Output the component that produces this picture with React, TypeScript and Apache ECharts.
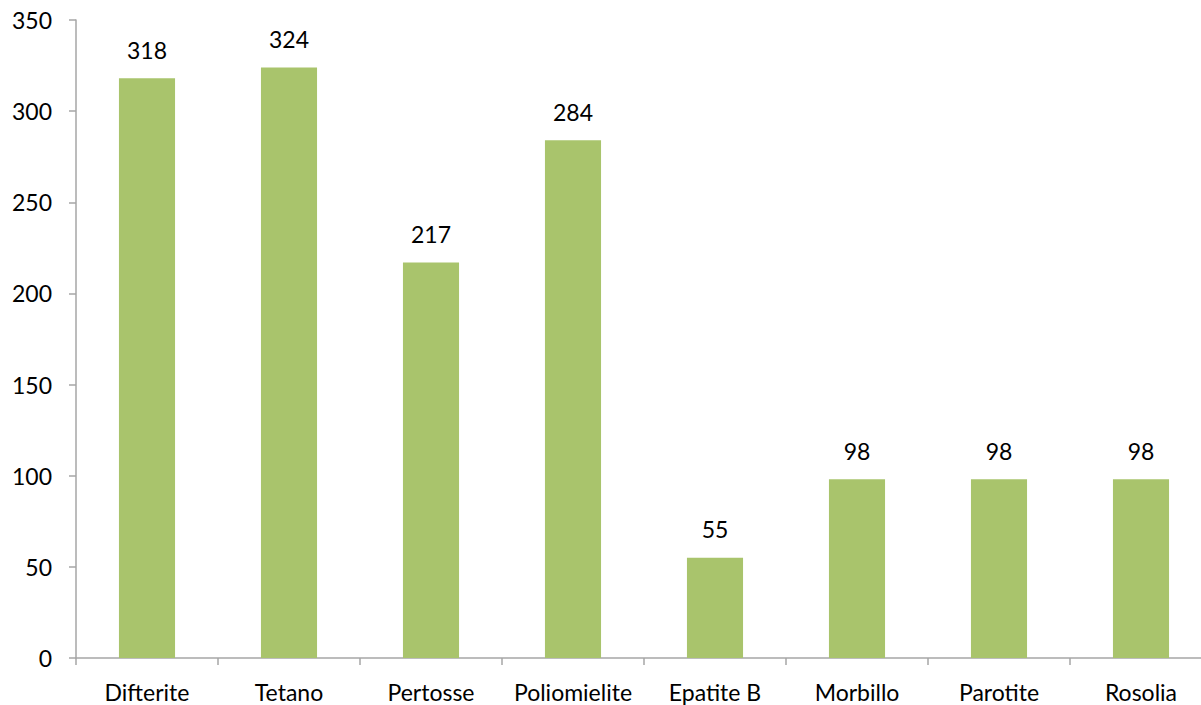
import React, { useEffect, useRef } from "react";
import * as echarts from "echarts";

const categories = ["Difterite", "Tetano", "Pertosse", "Poliomielite", "Epatite B", "Morbillo", "Parotite", "Rosolia"];
const values = [318, 324, 217, 284, 55, 98, 98, 98];
const yTicks = { min: 0, max: 350, interval: 50 };

const FONT = "Lato, 'Open Sans', sans-serif";
const INNER_W = 1230;

export default function App() {
  const ref = useRef<HTMLDivElement>(null);
  useEffect(() => {
    if (!ref.current) return;
    const chart = echarts.init(ref.current, undefined, { renderer: "svg" });
    chart.setOption({
      animation: false,
      backgroundColor: "#ffffff",
      grid: { left: 76, right: INNER_W - 1212, top: 20, bottom: 47 },
      xAxis: {
        type: "category",
        data: categories,
        boundaryGap: true,
        axisLine: { lineStyle: { color: "#a6a6a6", width: 1.5 } },
        axisTick: { show: true, interval: 0, length: 7, lineStyle: { color: "#a6a6a6", width: 1.5 } },
        axisLabel: { color: "#000", fontSize: 23, fontFamily: FONT, margin: 22, interval: 0, hideOverlap: false },
      },
      yAxis: {
        type: "value",
        min: yTicks.min,
        max: yTicks.max,
        interval: yTicks.interval,
        axisLine: { show: true, lineStyle: { color: "#a6a6a6", width: 1.5 } },
        axisTick: { show: true, length: 7, lineStyle: { color: "#a6a6a6", width: 1.5 } },
        splitLine: { show: false },
        axisLabel: { color: "#000", fontSize: 23, fontFamily: FONT, margin: 24 },
      },
      series: [
        {
          type: "bar",
          data: values,
          barWidth: "39.5%",
          itemStyle: { color: "#a9c46c" },
          label: {
            show: true,
            position: "top",
            distance: 17,
            color: "#000",
            fontSize: 23,
            fontFamily: FONT,
          },
        },
      ],
    });
    return () => chart.dispose();
  }, []);
  return (
    <div style={{ position: "fixed", left: 0, top: 0, width: 1201, height: 705, overflow: "hidden", background: "#fff" }}>
      <div ref={ref} style={{ width: INNER_W, height: 705 }} />
    </div>
  );
}
